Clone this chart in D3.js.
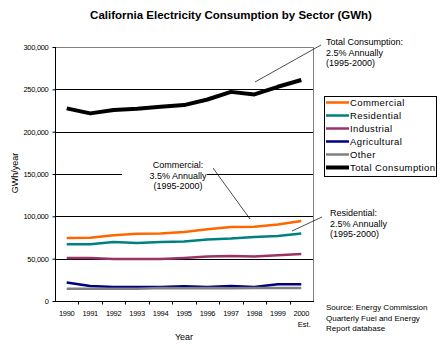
<!DOCTYPE html>
<html>
<head>
<meta charset="utf-8">
<script src="https://cdn.jsdelivr.net/npm/d3@7"></script>
<style>
  body { margin: 0; background: #fff; }
  svg { font-family: "Liberation Sans", Arial, sans-serif; }
</style>
</head>
<body>
<div id="chart"></div>
<script>
"use strict";

// Data (GWh)
const years = ["1990", "1991", "1992", "1993", "1994", "1995", "1996", "1997", "1998", "1999", "2000"];
const commercial = [74500, 74700, 77700, 79500, 79700, 81600, 84800, 87500, 87600, 90300, 94600];
const residential = [67000, 67000, 69800, 68600, 69800, 70200, 72600, 73800, 75700, 76900, 79700];
const industrial = [50800, 50800, 49700, 49700, 49700, 50800, 52500, 53200, 52500, 54000, 55600];
const agricultural = [21800, 17700, 16600, 16600, 16500, 17300, 16500, 17700, 16500, 19700, 19700];
const other = [14600, 14600, 14600, 14600, 15500, 15000, 15500, 15200, 15500, 15500, 15500];
const total = [227500, 221600, 225500, 227000, 229400, 231400, 238000, 247000, 244000, 253000, 261000];
const yTicks = [0, 50000, 100000, 150000, 200000, 250000, 300000];

const series = [
    {name: "Commercial", values: commercial, color: "#ff6600", width: 2.5},
    {name: "Residential", values: residential, color: "#008080", width: 2.5},
    {name: "Industrial", values: industrial, color: "#993366", width: 2.5},
    {name: "Agricultural", values: agricultural, color: "#000080", width: 2.5},
    {name: "Other", values: other, color: "#808080", width: 2.5},
    {name: "Total Consumption", values: total, color: "#000000", width: 4}
];

const W = 442, H = 352;
const plot = {left: 55, right: 313, top: 47, bottom: 301};

let svg = d3.select("#chart").append("svg")
    .attr("width", W).attr("height", H);

let x = d3.scaleBand().domain(years).range([plot.left, plot.right]);
let xc = d => x(d) + x.bandwidth() / 2;
let y = d3.scaleLinear().domain([0, 300000]).range([plot.bottom, plot.top]);

// Title
svg.append("text")
    .attr("x", 231).attr("y", 19)
    .attr("text-anchor", "middle")
    .style("font-size", "11.5px").style("font-weight", "bold")
    .text("California Electricity Consumption by Sector (GWh)");

// Gridlines
svg.append("g").selectAll("line")
    .data(yTicks.filter(d => d > 0 && d < 300000))
    .enter().append("line")
    .attr("x1", plot.left).attr("x2", plot.right)
    .attr("y1", d => Math.round(y(d)) + 0.5).attr("y2", d => Math.round(y(d)) + 0.5)
    .style("stroke", "#000").style("stroke-width", 1);

// Top and right border (gray)
svg.append("path")
    .attr("d", `M${plot.left},${plot.top + 0.5}H${plot.right + 0.5}V${plot.bottom}`)
    .style("fill", "none").style("stroke", "#808080");

// Y axis
let yAxis = svg.append("g")
    .attr("transform", `translate(${plot.left + 0.5},0)`)
    .call(d3.axisLeft(y).tickValues(yTicks).tickSize(3).tickPadding(4)
        .tickFormat(d3.format(",")));
yAxis.select(".domain").attr("d", `M0,${plot.top}V${plot.bottom}`);
yAxis.selectAll("text")
    .style("font-family", "Liberation Sans, Arial, sans-serif")
    .style("font-size", "7.5px").style("letter-spacing", "-0.3px");

// X axis with ticks between categories
let xAxisG = svg.append("g")
    .attr("transform", `translate(0,${plot.bottom + 0.5})`);
xAxisG.append("line")
    .attr("x1", plot.left).attr("x2", plot.right + 1)
    .style("stroke", "#000");
xAxisG.selectAll(".xtick")
    .data(years.slice(1))
    .enter().append("line")
    .attr("class", "xtick")
    .attr("x1", d => Math.round(x(d)) + 0.5).attr("x2", d => Math.round(x(d)) + 0.5)
    .attr("y1", 0).attr("y2", 3)
    .style("stroke", "#000");
xAxisG.selectAll(".xlabel")
    .data(years)
    .enter().append("text")
    .attr("class", "xlabel")
    .attr("x", d => xc(d)).attr("y", 14)
    .attr("text-anchor", "middle")
    .style("font-size", "7.5px").style("letter-spacing", "-0.3px")
    .text(d => d);
xAxisG.append("text")
    .attr("x", xc("2000") + 3).attr("y", 25)
    .attr("text-anchor", "middle")
    .style("font-size", "7.5px")
    .text("Est.");

// Axis titles
svg.append("text")
    .attr("x", 184).attr("y", 340)
    .attr("text-anchor", "middle")
    .style("font-size", "9px")
    .text("Year");
svg.append("text")
    .attr("transform", "translate(18,173) rotate(-90)")
    .attr("text-anchor", "middle")
    .style("font-size", "9px")
    .text("GWh/year");

// Annotation: Commercial (white box behind, cuts the gridline)
svg.append("rect")
    .attr("x", 122).attr("y", 158).attr("width", 85).attr("height", 32)
    .style("fill", "#fff");

// Series lines
let line = d3.line()
    .x((d, i) => xc(years[i]))
    .y(d => y(d));

svg.append("g").selectAll("path")
    .data(series)
    .enter().append("path")
    .attr("d", d => line(d.values))
    .style("fill", "none")
    .style("stroke", d => d.color)
    .style("stroke-width", d => d.width)
    .style("stroke-linejoin", "round");

// Annotations
function note(lines, tx, ty, anchor, size) {
    let t = svg.append("text")
        .attr("text-anchor", anchor)
        .style("font-size", size + "px");
    lines.forEach((s, i) => {
        t.append("tspan").attr("x", tx).attr("y", ty + i * 10.5).text(s);
    });
}
function leader(x1, y1, x2, y2) {
    svg.append("line")
        .attr("x1", x1).attr("y1", y1).attr("x2", x2).attr("y2", y2)
        .style("stroke", "#000").style("stroke-width", 0.7);
}

note(["Total Consumption:", "2.5% Annually", "(1995-2000)"], 326, 45, "start", 9);
leader(255, 82, 321, 45);

note(["Commercial:", "3.5% Annually", "(1995-2000)"], 178, 168, "middle", 9);
leader(213, 168, 250, 219);

note(["Residential:", "2.5% Annually", "(1995-2000)"], 330, 216, "start", 9);
leader(292, 231, 322, 217);

note(["Source: Energy Commission", "Quarterly Fuel and Energy", "Report database"], 326, 310, "start", 8);

// Legend
let legend = svg.append("g");
legend.append("rect")
    .attr("x", 324.5).attr("y", 96.5).attr("width", 112).attr("height", 80)
    .style("fill", "#fff").style("stroke", "#000");
let items = legend.selectAll(".item")
    .data(series)
    .enter().append("g")
    .attr("class", "item")
    .attr("transform", (d, i) => `translate(0,${102.5 + i * 13})`);
items.append("line")
    .attr("x1", 326).attr("x2", 349)
    .style("stroke", d => d.color)
    .style("stroke-width", d => d.width === 4 ? 4 : 2.5);
items.append("text")
    .attr("x", 350).attr("y", 3.5)
    .style("font-size", "9.5px").style("letter-spacing", "0.4px")
    .text(d => d.name);
</script>
</body>
</html>
